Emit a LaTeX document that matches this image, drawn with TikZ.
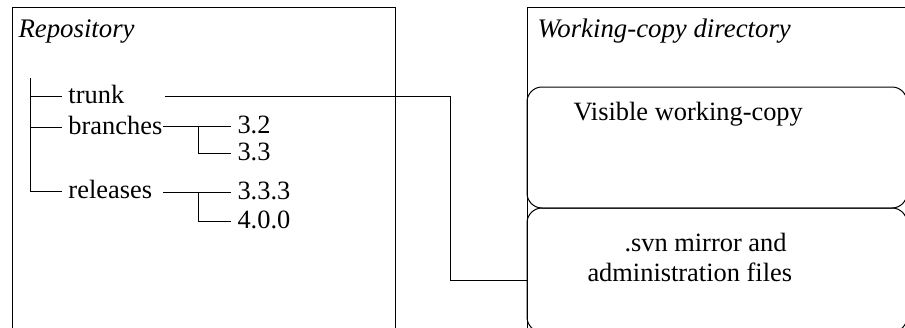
\documentclass[tikz,border=0pt]{standalone}
\usepackage{fontspec}
\setmainfont{Liberation Serif}
\begin{document}
\begin{tikzpicture}[x=0.5pt,y=-0.5pt,
  line width=0.5pt,
  lbl/.style={anchor=west,inner xsep=3pt,inner ysep=0pt,text height=1.6ex,text depth=0pt,font=\fontsize{13.2}{15}\selectfont},
  ttl/.style={anchor=base west,inner sep=0pt,font=\fontsize{13.4}{15}\selectfont\itshape},
  txt/.style={anchor=base west,inner sep=0pt,font=\fontsize{13.2}{15}\selectfont},
  wcbox/.style={draw,rounded corners=7.5pt,inner sep=0pt,outer sep=0pt,minimum width=190pt}
]
\path[use as bounding box] (0,0) rectangle (905,327);
\clip (0,0) rectangle (905,327);
% outer boxes
\draw (12,7) rectangle (395,345);
\draw (527,7) rectangle (920,345);
\node[ttl] (repo) at (18,37) {Repository};
\node[ttl] (wcd) at (537,37) {Working-copy directory};
% working copy boxes
\node[wcbox,minimum height=60.5pt] (vis) at (717,147.5) {};
\node[wcbox,minimum height=62pt] (svn) at (717,270) {};
\node[txt] (vistxt) at (573,120) {Visible working-copy};
\node[txt,align=left] (svntxt) at (587,281) {\hspace*{18.5pt}.svn mirror and\\administration files};
% tree
\coordinate (root) at (30,78);
\node[lbl] (trunk) at (62,96) {trunk};
\node[lbl] (branches) at (62,127) {branches};
\node[lbl] (releases) at (62,191) {releases};
\node[lbl] (v32) at (231,126) {3.2};
\node[lbl] (v33) at (231,153) {3.3};
\node[lbl] (v333) at (231,192) {3.3.3};
\node[lbl] (v400) at (231,221) {4.0.0};
\coordinate (tk) at (165,96);
\coordinate (bj) at (163,126);
\coordinate (rj) at (163,192);
\coordinate (bk) at (198,126);
\coordinate (rk) at (198,192);
\draw (root) |- (releases.west);
\draw (root |- trunk.west) -- (trunk.west);
\draw (root |- branches.west) -- (branches.west);
\draw (bj) -- (v32.west);
\draw (bk) |- (v33.west);
\draw (rj) -- (v333.west);
\draw (rk) |- (v400.west);
% trunk connector
\coordinate (turn) at (450,96);
\coordinate (svnin) at (527,280);
\draw (tk) -- (turn) |- (svnin);
\end{tikzpicture}
\end{document}
